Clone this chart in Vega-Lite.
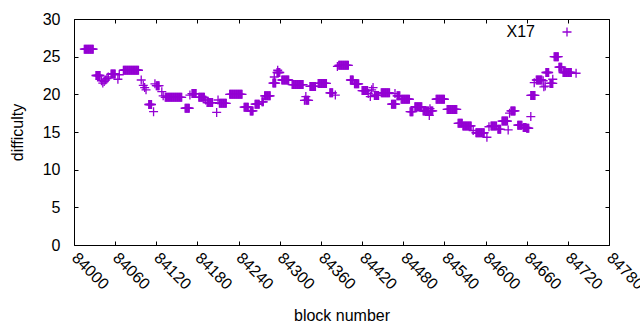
{
"$schema": "https://vega.github.io/schema/vega-lite/v6.json",
"width": 535, "height": 226,
"autosize": {"type": "none"},
"padding": {"left": 74, "top": 19, "right": 31, "bottom": 85},
"background": "white",
"config": {
 "view": {"stroke": "black", "strokeWidth": 1},
 "font": "Liberation Sans",
 "axis": {"labelFont": "Liberation Sans", "labelFontSize": 16, "labelColor": "black", "titleFont": "Liberation Sans", "titleFontSize": 16, "titleFontWeight": "normal", "titleColor": "black", "tickColor": "black", "tickWidth": 1, "grid": false, "domain": false}
},
"data": {"values": [
{"b":84015,"d":26},{"b":84016,"d":26},{"b":84017,"d":26},{"b":84018,"d":26},{"b":84019,"d":26},{"b":84020,"d":26},{"b":84021,"d":26},{"b":84022,"d":26},{"b":84023,"d":26},{"b":84024,"d":26},{"b":84025,"d":26},{"b":84026,"d":26},{"b":84027,"d":26},{"b":84028,"d":26},
{"b":84032,"d":22.5},{"b":84033,"d":22.5},{"b":84034,"d":22.5},{"b":84035,"d":22.5},{"b":84036,"d":22.5},{"b":84037,"d":22.5},{"b":84038,"d":22.5},
{"b":84040,"d":21.8},{"b":84042,"d":21.5},{"b":84044,"d":21.7},
{"b":84046,"d":21.9},{"b":84048,"d":22.1},{"b":84050,"d":22.3},
{"b":84054,"d":22.7},{"b":84055,"d":22.7},{"b":84056,"d":22.7},{"b":84057,"d":22.7},{"b":84058,"d":22.7},{"b":84059,"d":22.7},{"b":84060,"d":22.7},
{"b":84064,"d":22.0},{"b":84066,"d":22.6},
{"b":84072,"d":23.2},{"b":84073,"d":23.2},{"b":84074,"d":23.2},{"b":84075,"d":23.2},{"b":84076,"d":23.2},{"b":84077,"d":23.2},{"b":84078,"d":23.2},{"b":84079,"d":23.2},{"b":84080,"d":23.2},{"b":84081,"d":23.2},{"b":84082,"d":23.2},{"b":84083,"d":23.2},{"b":84084,"d":23.2},{"b":84085,"d":23.2},{"b":84086,"d":23.2},{"b":84087,"d":23.2},{"b":84088,"d":23.2},{"b":84089,"d":23.2},{"b":84090,"d":23.2},{"b":84091,"d":23.2},{"b":84092,"d":23.2},{"b":84093,"d":23.2},{"b":84094,"d":23.2},
{"b":84098,"d":21.9},{"b":84101,"d":21.2},{"b":84103,"d":20.9},{"b":84105,"d":20.6},
{"b":84109,"d":18.65},{"b":84110,"d":18.65},{"b":84111,"d":18.65},{"b":84112,"d":18.65},{"b":84113,"d":18.65},
{"b":84116,"d":17.7},
{"b":84118,"d":21.4},{"b":84120,"d":21.15},{"b":84121,"d":21.15},{"b":84122,"d":21.15},{"b":84123,"d":21.15},{"b":84124,"d":21.15},
{"b":84128,"d":20.35},{"b":84130,"d":19.8},
{"b":84133,"d":19.6},{"b":84134,"d":19.6},{"b":84135,"d":19.6},{"b":84136,"d":19.6},{"b":84137,"d":19.6},{"b":84138,"d":19.6},{"b":84139,"d":19.6},{"b":84140,"d":19.6},{"b":84141,"d":19.6},{"b":84142,"d":19.6},{"b":84143,"d":19.6},{"b":84144,"d":19.6},{"b":84145,"d":19.6},{"b":84146,"d":19.6},{"b":84147,"d":19.6},{"b":84148,"d":19.6},{"b":84149,"d":19.6},{"b":84150,"d":19.6},{"b":84151,"d":19.6},{"b":84152,"d":19.6},{"b":84153,"d":19.6},{"b":84154,"d":19.6},{"b":84155,"d":19.6},{"b":84156,"d":19.6},{"b":84157,"d":19.6},
{"b":84162,"d":18.15},{"b":84163,"d":18.15},{"b":84164,"d":18.15},{"b":84165,"d":18.15},{"b":84166,"d":18.15},{"b":84167,"d":18.15},{"b":84168,"d":18.15},
{"b":84169,"d":19.9},
{"b":84172,"d":20.1},{"b":84173,"d":20.1},{"b":84174,"d":20.1},{"b":84175,"d":20.1},{"b":84176,"d":20.1},{"b":84177,"d":20.1},{"b":84178,"d":20.1},
{"b":84182,"d":19.6},{"b":84183,"d":19.6},{"b":84184,"d":19.6},{"b":84185,"d":19.6},{"b":84186,"d":19.6},{"b":84187,"d":19.6},{"b":84188,"d":19.6},{"b":84189,"d":19.6},{"b":84190,"d":19.6},
{"b":84192,"d":19.25},
{"b":84194,"d":18.9},{"b":84195,"d":18.9},{"b":84196,"d":18.9},{"b":84197,"d":18.9},{"b":84198,"d":18.9},{"b":84199,"d":18.9},{"b":84200,"d":18.9},{"b":84201,"d":18.9},{"b":84202,"d":18.9},
{"b":84208,"d":17.6},
{"b":84210,"d":19.25},
{"b":84212,"d":18.8},{"b":84213,"d":18.8},{"b":84214,"d":18.8},{"b":84215,"d":18.8},{"b":84216,"d":18.8},{"b":84217,"d":18.8},{"b":84218,"d":18.8},{"b":84219,"d":18.8},{"b":84220,"d":18.8},{"b":84221,"d":18.8},{"b":84222,"d":18.8},
{"b":84227,"d":20},{"b":84228,"d":20},{"b":84229,"d":20},{"b":84230,"d":20},{"b":84231,"d":20},{"b":84232,"d":20},{"b":84233,"d":20},{"b":84234,"d":20},{"b":84235,"d":20},{"b":84236,"d":20},{"b":84237,"d":20},{"b":84238,"d":20},{"b":84239,"d":20},{"b":84240,"d":20},{"b":84241,"d":20},{"b":84242,"d":20},{"b":84243,"d":20},{"b":84244,"d":20},{"b":84245,"d":20},
{"b":84248,"d":18.3},{"b":84249,"d":18.3},{"b":84250,"d":18.3},{"b":84251,"d":18.3},{"b":84252,"d":18.3},{"b":84253,"d":18.3},{"b":84254,"d":18.3},
{"b":84257,"d":17.8},{"b":84258,"d":17.8},{"b":84259,"d":17.8},{"b":84260,"d":17.8},{"b":84261,"d":17.8},
{"b":84264,"d":18.7},{"b":84265,"d":18.7},{"b":84266,"d":18.7},{"b":84267,"d":18.7},{"b":84268,"d":18.7},{"b":84269,"d":18.7},{"b":84270,"d":18.7},
{"b":84274,"d":19.0},{"b":84275,"d":19.0},{"b":84276,"d":19.0},
{"b":84278,"d":19.8},{"b":84279,"d":19.8},{"b":84280,"d":19.8},{"b":84281,"d":19.8},{"b":84282,"d":19.8},{"b":84283,"d":19.8},{"b":84284,"d":19.8},{"b":84285,"d":19.8},{"b":84286,"d":19.8},
{"b":84290,"d":21.5},{"b":84291,"d":21.5},{"b":84292,"d":21.5},{"b":84293,"d":21.5},{"b":84294,"d":21.5},{"b":84292,"d":22.3},
{"b":84296,"d":22.9},{"b":84297,"d":22.9},{"b":84298,"d":22.9},{"b":84299,"d":22.9},{"b":84300,"d":22.9},{"b":84297,"d":23.2},
{"b":84303,"d":21.9},{"b":84304,"d":21.9},{"b":84305,"d":21.9},{"b":84306,"d":21.9},{"b":84307,"d":21.9},{"b":84308,"d":21.9},{"b":84309,"d":21.9},{"b":84310,"d":21.9},{"b":84311,"d":21.9},{"b":84312,"d":21.9},{"b":84313,"d":21.9},
{"b":84318,"d":21.3},{"b":84319,"d":21.3},{"b":84320,"d":21.3},{"b":84321,"d":21.3},{"b":84322,"d":21.3},{"b":84323,"d":21.3},{"b":84324,"d":21.3},{"b":84325,"d":21.3},{"b":84326,"d":21.3},{"b":84327,"d":21.3},{"b":84328,"d":21.3},{"b":84329,"d":21.3},{"b":84330,"d":21.3},{"b":84331,"d":21.3},{"b":84332,"d":21.3},{"b":84333,"d":21.3},{"b":84334,"d":21.3},
{"b":84336,"d":19.2},{"b":84337,"d":19.2},{"b":84339,"d":19.2},{"b":84340,"d":19.2},{"b":84341,"d":19.2},{"b":84342,"d":19.2},{"b":84338,"d":19.7},
{"b":84344,"d":21.05},{"b":84345,"d":21.05},{"b":84346,"d":21.05},{"b":84347,"d":21.05},{"b":84348,"d":21.05},{"b":84349,"d":21.05},{"b":84350,"d":21.05},{"b":84351,"d":21.05},{"b":84352,"d":21.05},
{"b":84356,"d":21.45},{"b":84357,"d":21.45},{"b":84358,"d":21.45},{"b":84359,"d":21.45},{"b":84360,"d":21.45},{"b":84361,"d":21.45},{"b":84362,"d":21.45},{"b":84363,"d":21.45},{"b":84364,"d":21.45},{"b":84365,"d":21.45},{"b":84366,"d":21.45},{"b":84367,"d":21.45},{"b":84368,"d":21.45},
{"b":84373,"d":20.2},{"b":84374,"d":20.2},{"b":84375,"d":20.2},{"b":84376,"d":20.2},{"b":84377,"d":20.2},{"b":84381,"d":19.9},
{"b":84384,"d":23.7},
{"b":84386,"d":23.85},{"b":84387,"d":23.85},{"b":84388,"d":23.85},{"b":84389,"d":23.85},{"b":84390,"d":23.85},{"b":84391,"d":23.85},{"b":84392,"d":23.85},{"b":84393,"d":23.85},{"b":84394,"d":23.85},{"b":84395,"d":23.85},{"b":84396,"d":23.85},{"b":84397,"d":23.85},{"b":84398,"d":23.85},{"b":84399,"d":23.85},{"b":84400,"d":23.85},
{"b":84403,"d":21.9},{"b":84404,"d":21.9},{"b":84405,"d":21.9},{"b":84406,"d":21.9},{"b":84407,"d":21.9},
{"b":84409,"d":21.4},{"b":84410,"d":21.4},{"b":84411,"d":21.4},{"b":84412,"d":21.4},{"b":84413,"d":21.4},{"b":84414,"d":21.4},{"b":84415,"d":21.4},
{"b":84420,"d":20.5},{"b":84421,"d":20.5},{"b":84422,"d":20.5},{"b":84423,"d":20.5},{"b":84424,"d":20.5},{"b":84425,"d":20.5},{"b":84426,"d":20.5},{"b":84427,"d":20.5},{"b":84428,"d":20.5},
{"b":84429,"d":20.1},{"b":84432,"d":19.7},{"b":84434,"d":20.6},{"b":84436,"d":20.9},
{"b":84438,"d":19.85},{"b":84439,"d":19.85},{"b":84440,"d":19.85},{"b":84441,"d":19.85},{"b":84442,"d":19.85},{"b":84443,"d":19.85},{"b":84444,"d":19.85},
{"b":84448,"d":20.2},{"b":84449,"d":20.2},{"b":84450,"d":20.2},{"b":84451,"d":20.2},{"b":84452,"d":20.2},{"b":84453,"d":20.2},{"b":84454,"d":20.2},{"b":84455,"d":20.2},{"b":84456,"d":20.2},{"b":84457,"d":20.2},{"b":84458,"d":20.2},{"b":84459,"d":20.2},{"b":84460,"d":20.2},
{"b":84463,"d":18.7},{"b":84464,"d":18.7},{"b":84465,"d":18.7},{"b":84466,"d":18.7},{"b":84467,"d":18.7},{"b":84468,"d":18.7},{"b":84469,"d":18.7},
{"b":84468,"d":20.1},
{"b":84471,"d":19.8},{"b":84472,"d":19.8},{"b":84473,"d":19.8},{"b":84474,"d":19.8},{"b":84475,"d":19.8},
{"b":84477,"d":19.35},{"b":84478,"d":19.35},{"b":84479,"d":19.35},{"b":84480,"d":19.35},{"b":84481,"d":19.35},{"b":84482,"d":19.35},{"b":84483,"d":19.35},{"b":84484,"d":19.35},{"b":84485,"d":19.35},{"b":84486,"d":19.35},{"b":84487,"d":19.35},{"b":84488,"d":19.35},{"b":84489,"d":19.35},
{"b":84490,"d":17.7},{"b":84491,"d":17.7},{"b":84492,"d":17.7},{"b":84493,"d":17.7},{"b":84494,"d":17.7},
{"b":84497,"d":18.35},{"b":84498,"d":18.35},{"b":84499,"d":18.35},{"b":84500,"d":18.35},{"b":84501,"d":18.35},{"b":84502,"d":18.35},{"b":84503,"d":18.35},{"b":84504,"d":18.35},{"b":84505,"d":18.35},{"b":84506,"d":18.35},{"b":84507,"d":18.35},
{"b":84509,"d":17.8},{"b":84510,"d":17.8},{"b":84511,"d":17.8},{"b":84512,"d":17.8},{"b":84513,"d":17.8},{"b":84514,"d":17.8},{"b":84515,"d":17.8},{"b":84516,"d":17.8},{"b":84517,"d":17.8},{"b":84520,"d":17.8},{"b":84521,"d":17.8},{"b":84522,"d":17.8},{"b":84523,"d":17.8},{"b":84518,"d":17.2},{"b":84519,"d":18.1},
{"b":84528,"d":19.35},{"b":84529,"d":19.35},{"b":84530,"d":19.35},{"b":84531,"d":19.35},{"b":84532,"d":19.35},{"b":84533,"d":19.35},{"b":84534,"d":19.35},{"b":84535,"d":19.35},{"b":84536,"d":19.35},{"b":84537,"d":19.35},{"b":84538,"d":19.35},{"b":84539,"d":19.35},{"b":84540,"d":19.35},
{"b":84544,"d":18},{"b":84545,"d":18},{"b":84546,"d":18},{"b":84547,"d":18},{"b":84548,"d":18},{"b":84549,"d":18},{"b":84550,"d":18},{"b":84551,"d":18},{"b":84552,"d":18},{"b":84553,"d":18},{"b":84554,"d":18},{"b":84555,"d":18},{"b":84556,"d":18},{"b":84557,"d":18},{"b":84558,"d":18},
{"b":84560,"d":16.15},{"b":84561,"d":16.15},{"b":84562,"d":16.15},{"b":84563,"d":16.15},{"b":84564,"d":16.15},{"b":84565,"d":16.15},{"b":84566,"d":16.15},
{"b":84567,"d":15.8},{"b":84568,"d":15.8},{"b":84569,"d":15.8},{"b":84570,"d":15.8},{"b":84571,"d":15.8},{"b":84572,"d":15.8},{"b":84573,"d":15.8},{"b":84574,"d":15.8},{"b":84575,"d":15.8},{"b":84576,"d":15.8},{"b":84577,"d":15.8},{"b":84578,"d":15.8},{"b":84579,"d":15.8},
{"b":84582,"d":15.2},
{"b":84586,"d":14.9},{"b":84587,"d":14.9},{"b":84588,"d":14.9},{"b":84589,"d":14.9},{"b":84590,"d":14.9},{"b":84591,"d":14.9},{"b":84592,"d":14.9},{"b":84593,"d":14.9},{"b":84594,"d":14.9},{"b":84595,"d":14.9},{"b":84596,"d":14.9},{"b":84597,"d":14.9},{"b":84598,"d":14.9},
{"b":84602,"d":14.3},
{"b":84605,"d":15.7},
{"b":84608,"d":15.8},{"b":84609,"d":15.8},{"b":84610,"d":15.8},{"b":84611,"d":15.8},{"b":84612,"d":15.8},{"b":84613,"d":15.8},{"b":84614,"d":15.8},{"b":84615,"d":15.8},{"b":84616,"d":15.8},
{"b":84618,"d":15.35},{"b":84619,"d":15.35},{"b":84620,"d":15.35},{"b":84621,"d":15.35},{"b":84622,"d":15.35},
{"b":84624,"d":16.45},{"b":84625,"d":16.45},{"b":84626,"d":16.45},{"b":84627,"d":16.45},{"b":84628,"d":16.45},{"b":84629,"d":16.45},{"b":84630,"d":16.45},{"b":84631,"d":16.45},{"b":84632,"d":16.45},
{"b":84633,"d":15.27},
{"b":84635,"d":17.5},
{"b":84637,"d":17.8},{"b":84638,"d":17.8},{"b":84639,"d":17.8},{"b":84640,"d":17.8},{"b":84641,"d":17.8},{"b":84642,"d":17.8},{"b":84643,"d":17.8},
{"b":84647,"d":15.9},{"b":84648,"d":15.9},{"b":84649,"d":15.9},{"b":84650,"d":15.9},{"b":84651,"d":15.9},{"b":84652,"d":15.9},{"b":84653,"d":15.9},
{"b":84655,"d":15.6},{"b":84656,"d":15.6},{"b":84657,"d":15.6},{"b":84658,"d":15.6},{"b":84659,"d":15.6},
{"b":84660,"d":15.5},{"b":84661,"d":15.5},{"b":84662,"d":15.5},{"b":84663,"d":15.5},
{"b":84666,"d":17.05},
{"b":84666,"d":19.85},{"b":84667,"d":19.85},{"b":84668,"d":19.85},{"b":84669,"d":19.85},{"b":84670,"d":19.85},{"b":84671,"d":19.85},{"b":84672,"d":19.85},
{"b":84671,"d":21.55},
{"b":84674,"d":21.9},{"b":84675,"d":21.9},{"b":84676,"d":21.9},{"b":84677,"d":21.9},{"b":84678,"d":21.9},{"b":84679,"d":21.9},{"b":84680,"d":21.9},{"b":84681,"d":21.9},{"b":84682,"d":21.9},
{"b":84684,"d":21.8},{"b":84685,"d":21.0},{"b":84687,"d":21.1},
{"b":84688,"d":22.9},{"b":84689,"d":22.9},{"b":84690,"d":22.9},{"b":84691,"d":22.9},{"b":84692,"d":22.9},
{"b":84694,"d":21.45},{"b":84695,"d":21.45},{"b":84696,"d":21.45},{"b":84697,"d":21.45},{"b":84698,"d":21.45},{"b":84698,"d":22.0},
{"b":84700,"d":25},{"b":84701,"d":25},{"b":84702,"d":25},{"b":84703,"d":25},{"b":84704,"d":25},{"b":84705,"d":25},{"b":84706,"d":25},
{"b":84707,"d":23.6},{"b":84708,"d":23.6},{"b":84709,"d":23.6},{"b":84710,"d":23.6},{"b":84711,"d":23.6},
{"b":84713,"d":22.9},{"b":84714,"d":22.9},{"b":84715,"d":22.9},{"b":84716,"d":22.9},{"b":84717,"d":22.9},{"b":84718,"d":22.9},{"b":84719,"d":22.9},{"b":84720,"d":22.9},{"b":84721,"d":22.9},{"b":84722,"d":22.9},{"b":84723,"d":22.9},{"b":84724,"d":22.9},{"b":84725,"d":22.9},
{"b":84732,"d":22.8}
]},
"layer": [
 {
  "mark": {"type": "point", "shape": "M-1,0H1M0,-1V1", "size": 81, "filled": false, "strokeWidth": 1.3, "opacity": 1},
  "encoding": {
   "x": {"field": "b", "type": "quantitative",
     "scale": {"domain": [84000, 84780], "nice": false, "zero": false},
     "axis": {"orient": "bottom", "values": [84000,84060,84120,84180,84240,84300,84360,84420,84480,84540,84600,84660,84720,84780], "format": "d", "title": "block number", "labelAngle": 45, "labelAlign": "left", "labelBaseline": "middle", "tickSize": -4, "labelPadding": 14, "labelFlush": false, "labelOverlap": false, "titleY": 75, "titleBaseline": "alphabetic"}},
   "y": {"field": "d", "type": "quantitative",
     "scale": {"domain": [0, 30], "nice": false, "zero": false},
     "axis": {"orient": "left", "values": [0,5,10,15,20,25,30], "title": "difficulty", "tickSize": -4, "labelPadding": 18, "labelFlush": false, "labelOverlap": false, "titleX": -57, "titleY": 113, "titleBaseline": "middle", "titleAngle": -90}},
   "color": {"datum": "X17", "type": "nominal", "scale": {"range": ["#9400D3"]},
     "legend": {"orient": "none", "legendX": 485, "legendY": 5, "title": null, "padding": 0, "labelFont": "Liberation Sans", "labelFontSize": 16, "labelColor": "black", "labelAlign": "right", "labelOffset": -40, "symbolType": "M-1,0H1M0,-1V1", "symbolSize": 81, "symbolStrokeWidth": 1.3, "symbolStrokeColor": "#9400D3", "symbolFillColor": "transparent"}}
  }
 },
 {
  "mark": {"type": "point", "opacity": 0},
  "encoding": {
   "x": {"field": "b", "type": "quantitative",
     "scale": {"domain": [84000, 84780], "nice": false, "zero": false},
     "axis": {"orient": "top", "values": [84000,84060,84120,84180,84240,84300,84360,84420,84480,84540,84600,84660,84720,84780], "labels": false, "title": null, "tickSize": -4}},
   "y": {"field": "d", "type": "quantitative",
     "scale": {"domain": [0, 30], "nice": false, "zero": false},
     "axis": {"orient": "right", "values": [0,5,10,15,20,25,30], "labels": false, "title": null, "tickSize": -4}}
  }
 }
]
}
